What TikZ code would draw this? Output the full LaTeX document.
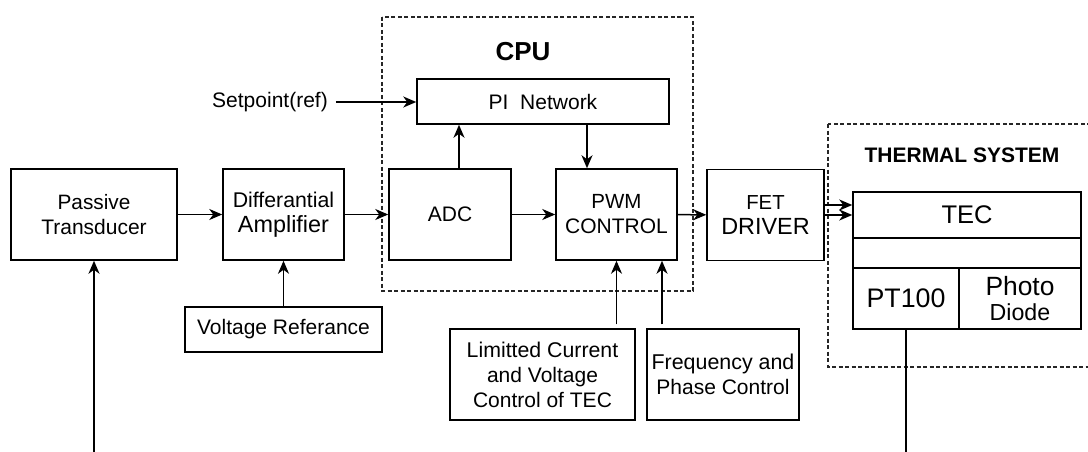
\documentclass[tikz,border=0pt]{standalone}
\usepackage{fontspec}
\setmainfont{Liberation Sans}
\usetikzlibrary{arrows.meta}
\newcommand\fsz[2]{\fontsize{#1}{#2}\selectfont}
\begin{document}
\begin{tikzpicture}[x=1pt,y=-1pt]
\tikzset{
 blk/.style={draw, line width=1.5pt, inner sep=0pt, align=center, font=\fsz{21}{25}},
 arr/.style={line width=1.5pt, -{Stealth[length=13pt,width=11pt,inset=4pt]}},
 ln/.style={line width=1.5pt},
 dbox/.style={draw=black!85, line width=1.3pt, dash pattern=on 4pt off 2.5pt},
 lbl/.style={inner sep=0pt, font=\fsz{21}{25}},
 ttl/.style={inner sep=0pt, font=\bfseries\fsz{21}{25}},
}
\useasboundingbox (0,0) rectangle (1088,452);
\clip (0,0) rectangle (1088,452);
% containers
\draw[dbox] (382,17) rectangle (693,291);
\draw[dbox] (828,124) rectangle (1100,367);
\node[ttl, font=\bfseries\fsz{26}{30}] (cputitle) at (523,52) {CPU};
\node[ttl] (thtitle) at (962,155) {THERMAL SYSTEM};
% blocks
\node[blk, minimum width=166pt, minimum height=91pt] (pas) at (94,214.5) {\fsz{20.8}{25}Passive\\Transducer};
\node[blk, minimum width=121pt, minimum height=91pt] (diff) at (283.5,214.5) {\fsz{21.3}{27}Differantial\\\fsz{23.4}{27}Amplifier};
\node[blk, minimum width=122pt, minimum height=91pt] (adc) at (450,214.5) {ADC};
\node[blk, minimum width=121pt, minimum height=91pt] (pwm) at (616.5,214.5) {\fsz{20.5}{25}PWM\\CONTROL};
\node[blk, minimum width=117pt, minimum height=91pt] (fet) at (765.5,215) {\fsz{20.3}{27}FET\\\fsz{23.4}{27}DRIVER};
\node[blk, minimum width=252pt, minimum height=45pt] (pi) at (543,101.5) {PI\ \ Network};
\node[blk, minimum width=197pt, minimum height=45pt] (vref) at (283.5,329.5) {Voltage Referance};
\node[blk, minimum width=185pt, minimum height=91pt] (lim) at (542.5,374.5) {\fsz{21.3}{24}Limitted Current\\and Voltage\\Control of TEC};
\node[blk, minimum width=152pt, minimum height=91pt] (freq) at (723,374.5) {\fsz{21.4}{25}Frequency and\\Phase Control};
\node[lbl] (sp) at (270,102) {Setpoint(ref)};
% thermal table
\node[blk, minimum width=228pt, minimum height=46pt] (tec) at (967,215) {\fsz{25.5}{30}TEC};
\node[blk, minimum width=228pt, minimum height=30pt] (mid) at (967,253) {};
\node[blk, minimum width=106pt, minimum height=61pt] (pt100) at (906,298.5) {\fsz{26.8}{30}PT100};
\node[blk, minimum width=122pt, minimum height=61pt] (pd) at (1020,298.5) {\fsz{26.4}{30}Photo\\\fsz{23.2}{30}Diode};
% free ends
\coordinate (pasin) at (94,452);
\coordinate (ptout) at (906,452);
% connectors
\draw[arr] (pas) -- (diff);
\draw[arr] (diff) -- (adc);
\draw[arr] (adc) -- (pwm);
\draw[arr] (pwm) -- (fet);
\draw[arr] (fet.east) -- (fet.east -| tec.west);
\draw[arr] ([yshift=10pt]fet.east) -- ([yshift=10pt]fet.east -| tec.west);
\draw[arr] ([xshift=9pt]adc.north) -- ([xshift=9pt]adc.north |- pi.south);
\draw[arr] ([xshift=-29.5pt]pwm.north |- pi.south) -- ([xshift=-29.5pt]pwm.north);
\draw[arr] ([xshift=8pt]sp.east) -- (sp.east -| pi.west);
\draw[arr] (vref.north) -- (diff.south);
\draw[arr] ([yshift=4pt]pwm.south |- lim.north) -- (pwm.south);
\draw[arr] ([xshift=45.5pt,yshift=4pt]pwm.south |- freq.north) -- ([xshift=45.5pt]pwm.south);
\draw[arr] (pasin) -- (pas.south);
\draw[ln] (pt100.south) -- (ptout);
\end{tikzpicture}
\end{document}
